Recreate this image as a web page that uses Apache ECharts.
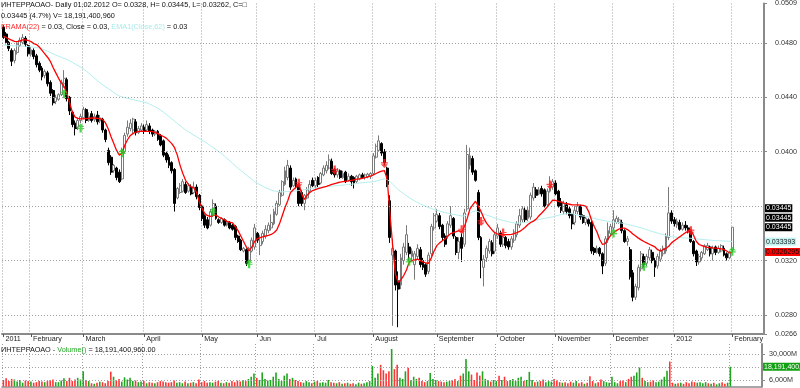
<!DOCTYPE html>
<html><head><meta charset="utf-8">
<script src="https://cdn.jsdelivr.net/npm/echarts@6/dist/echarts.min.js"></script>
<style>html,body{margin:0;padding:0;background:#fff}#c{width:800px;height:388px}</style>
</head><body><div id="c"></div>
<script>
// ---------- DATA (prices in units of 0.00001) ----------
const OPEN = [
4915,4866,4805,4745,4670,4730,4780,4805,4835,4780,
4715,4745,4705,4650,4615,4560,4580,4510,4450,4370,
4385,4420,4500,4530,4400,4290,4210,4180,4230,4250,
4310,4230,4280,4235,4270,4225,4240,4160,4010,3960,
3860,3880,3850,3800,4000,4130,4170,4160,4220,4140,
4160,4180,4160,4190,4160,4130,4150,4120,4080,3990,
3960,3920,3870,3660,3700,3710,3760,3710,3740,3700,
3740,3680,3600,3530,3500,3460,3540,3600,3500,3480,
3500,3460,3480,3460,3450,3380,3350,3270,3280,3200,
3270,3300,3400,3310,3340,3380,3420,3440,3470,3540,
3610,3680,3760,3810,3880,3750,3800,3760,3700,3620,
3660,3710,3790,3750,3810,3770,3830,3860,3880,3930,
3870,3830,3860,3810,3850,3790,3820,3810,3780,3800,
3830,3810,3815,3820,3840,3960,4010,4060,4000,3880,
3640,3240,3270,3050,3020,3200,3260,3300,3230,3170,
3230,3280,3200,3170,3120,3250,3440,3490,3530,3460,
3380,3380,3460,3510,3370,3260,3370,3320,3580,3900,
3950,3860,3700,3370,3150,3220,3270,3330,3270,3380,
3400,3320,3370,3340,3300,3350,3390,3460,3500,3570,
3510,3520,3660,3720,3690,3730,3720,3610,3710,3740,
3770,3710,3630,3560,3610,3580,3540,3480,3560,3600,
3530,3480,3500,3480,3290,3260,3290,3250,3180,3350,
3400,3440,3480,3480,3480,3420,3340,3280,3110,2930,
3000,3140,3230,3180,3220,3260,3200,3160,3210,3250,
3270,3370,3550,3500,3460,3480,3430,3460,3440,3420,
3340,3270,3190,3220,3250,3280,3300,3250,3300,3260,
3270,3290,3250,3220,3280];
const HIGH = [
4930,4880,4815,4760,4760,4805,4840,4865,4850,4790,
4770,4760,4720,4665,4630,4605,4595,4525,4460,4420,
4430,4530,4600,4545,4410,4300,4230,4250,4280,4330,
4320,4290,4300,4280,4300,4270,4250,4170,4030,3975,
3910,3890,3870,4030,4140,4230,4240,4250,4240,4190,
4210,4200,4230,4210,4170,4160,4160,4130,4090,4000,
3980,3930,3880,3740,3770,3800,3780,3770,3760,3780,
3760,3690,3610,3540,3520,3580,3650,3620,3510,3520,
3510,3500,3490,3470,3460,3390,3360,3300,3290,3300,
3370,3470,3410,3390,3420,3460,3480,3540,3580,3640,
3720,3790,3890,3940,3900,3810,3810,3770,3720,3690,
3740,3790,3810,3810,3820,3850,3900,3930,3980,3950,
3880,3880,3870,3860,3860,3840,3830,3820,3830,3840,
3845,3840,3845,3850,3990,4060,4120,4070,4020,3890,
3680,3360,3280,3120,3250,3330,3460,3330,3290,3270,
3320,3300,3220,3180,3260,3470,3550,3580,3550,3470,
3400,3490,3600,3520,3380,3370,3400,3580,4050,4030,
3970,3870,3720,3380,3240,3310,3360,3350,3410,3470,
3420,3390,3380,3360,3380,3430,3490,3580,3600,3590,
3600,3700,3770,3740,3740,3750,3730,3730,3820,3800,
3790,3720,3660,3640,3630,3600,3550,3600,3630,3610,
3540,3520,3510,3490,3300,3310,3300,3260,3380,3480,
3470,3570,3530,3520,3500,3430,3380,3300,3130,3030,
3170,3270,3250,3250,3300,3280,3220,3250,3290,3310,
3400,3740,3570,3520,3510,3500,3480,3490,3460,3430,
3350,3280,3250,3270,3320,3330,3310,3310,3310,3310,
3320,3310,3260,3270,3445];
const LOW = [
4830,4790,4740,4630,4650,4715,4770,4790,4770,4700,
4700,4680,4620,4585,4525,4540,4480,4410,4340,4350,
4375,4410,4470,4370,4270,4180,4120,4160,4210,4240,
4210,4220,4215,4220,4200,4210,4140,4070,3900,3830,
3845,3790,3770,3790,3990,4110,4150,4130,4120,4130,
4150,4130,4150,4130,4110,4115,4080,4040,3960,3920,
3880,3840,3560,3650,3690,3700,3690,3700,3680,3690,
3650,3570,3490,3440,3430,3450,3520,3500,3470,3470,
3450,3450,3430,3420,3350,3330,3270,3260,3160,3180,
3260,3280,3330,3240,3320,3360,3400,3420,3460,3530,
3600,3670,3750,3790,3720,3740,3730,3600,3600,3570,
3650,3700,3740,3730,3740,3760,3820,3840,3870,3830,
3810,3810,3800,3800,3770,3780,3750,3730,3770,3790,
3800,3795,3805,3800,3830,3950,4000,3970,3900,3740,
3330,2720,2980,2710,2990,3170,3240,3200,3200,3060,
3210,3150,3130,3080,3100,3230,3420,3480,3430,3350,
3300,3360,3440,3360,3240,3210,3190,3300,3560,3870,
3830,3780,3350,3070,3010,3190,3250,3230,3250,3360,
3300,3300,3290,3280,3280,3330,3370,3440,3480,3480,
3490,3500,3640,3660,3680,3670,3590,3600,3700,3720,
3680,3590,3550,3540,3540,3510,3430,3460,3540,3500,
3470,3460,3450,3250,3240,3250,3230,3100,3160,3330,
3380,3420,3470,3470,3400,3330,3310,3060,2900,2910,
2980,3120,3150,3160,3200,3180,3080,3140,3190,3230,
3250,3350,3470,3450,3440,3420,3420,3420,3400,3330,
3230,3160,3170,3200,3240,3270,3230,3200,3240,3250,
3260,3230,3200,3210,3262];
const CLOSE = [
4841,4805,4760,4665,4745,4790,4820,4840,4790,4720,
4750,4700,4640,4600,4550,4590,4500,4430,4360,4400,
4420,4510,4540,4390,4300,4200,4170,4230,4260,4310,
4230,4260,4230,4260,4220,4250,4160,4090,3920,3850,
3900,3810,3780,4010,4120,4180,4210,4240,4140,4170,
4190,4150,4200,4150,4130,4150,4090,4050,3975,3940,
3900,3860,3620,3730,3750,3780,3700,3750,3690,3740,
3670,3590,3510,3460,3440,3560,3620,3510,3480,3510,
3460,3480,3440,3430,3370,3340,3280,3290,3180,3290,
3350,3440,3350,3370,3400,3430,3460,3480,3560,3620,
3700,3780,3860,3900,3740,3790,3740,3620,3620,3680,
3720,3760,3750,3790,3760,3840,3880,3900,3940,3840,
3830,3860,3810,3840,3780,3820,3780,3770,3820,3830,
3810,3830,3835,3840,3970,4040,4080,3990,3920,3760,
3370,3290,3020,2990,3220,3300,3390,3250,3270,3250,
3290,3170,3150,3100,3240,3450,3530,3540,3450,3370,
3320,3470,3530,3380,3260,3340,3290,3550,3980,3970,
3850,3790,3370,3200,3210,3290,3340,3250,3390,3440,
3320,3370,3310,3300,3360,3410,3470,3530,3580,3500,
3570,3680,3740,3680,3720,3690,3600,3710,3760,3780,
3690,3600,3570,3620,3560,3530,3470,3570,3600,3520,
3480,3510,3470,3270,3260,3290,3250,3160,3360,3420,
3450,3500,3510,3500,3420,3340,3360,3080,2930,3010,
3150,3250,3170,3230,3280,3200,3150,3230,3270,3290,
3380,3550,3490,3470,3490,3430,3460,3440,3420,3340,
3250,3190,3230,3260,3310,3310,3250,3290,3260,3290,
3310,3240,3220,3260,3445];
// volume in units of 1,000M
const VOLUME = [
6,7.5,5,7,6.5,4.5,6,3.5,5.5,5,
4.5,3.5,4,5,4.5,4,5,6,6.5,4,
4,5.5,7.5,5,8,5,6.5,8,6.5,14,
6,5,3,2.5,3.5,4.5,4,3,5,13.7,
9,6,7,4.5,8.5,6.5,8,5,5.5,4,4.5,
5,3,4,3.5,3,4,5,4.5,4,3.5,
4,5.5,3.5,4,3,4.5,3,3.5,4,3,
6.5,4,5,3.5,4,3.5,4.5,5,3.5,3,
4,3.5,5,4,5.5,4.5,6,5,7,9,
12,8,6,13,7,5.5,6,9,13,7,
5,10,12,7,8,6,5,4,3.5,5,
4,3,4.5,5,3.5,4,3.5,6,4,3.5,
3,4,2.5,3,3.5,2.5,3,2,3.5,2.5,3,4,
5,19,8,12,20,15,12,14,34.6,16,20,
8,7,14,17.4,6,9,7,8,5,4,
5,12.5,7,6,5,4.5,4,4.5,5,6,
7,5,10,12,25.4,14,11,6,13,10,
14,7,6,4.5,6,5,10,6,9,5,
6,7,5,8,9,5,6,13.5,6,4,
4.5,5,6.5,4,5,4.5,7,5.5,4,3.5,
4,3,4.5,3.5,5,3,4,2.5,3.5,9.5,
5,3,4,6.5,5,4,3.5,9,4,3,
5,5.5,4,7,9,10,13,17.5,8,5,
4,4.5,6,4,4.5,6.5,9,14.5,23,3.5,
2.5,3,3.5,2.5,4,3,4.5,4,3.5,4,
3,4,3,2.5,3.5,2,3,4,2.5,3.5,18.1914];
const FRAMA = [
4850,4840,4830,4820,4812,4810,4815,4822,4822,4818,
4810,4795,4788,4770,4745,4720,4695,4665,4620,4580,
4540,4505,4480,4430,4360,4290,4255,4245,4242,4242,
4244,4246,4248,4248,4246,4244,4236,4212,4168,4110,
4060,4010,3975,3990,4050,4090,4120,4135,4145,4150,
4152,4150,4150,4150,4148,4140,4135,4120,4112,4100,
4080,4060,4030,3975,3900,3840,3790,3760,3742,3735,
3700,3630,3580,3545,3530,3524,3530,3535,3520,3510,
3500,3488,3482,3477,3450,3420,3380,3340,3300,3272,
3300,3340,3362,3368,3375,3380,3385,3392,3405,3425,
3470,3530,3590,3640,3700,3720,3740,3770,3690,3650,
3680,3700,3715,3722,3728,3734,3740,3745,3752,3760,
3766,3772,3776,3780,3783,3786,3790,3794,3798,3800,
3805,3810,3815,3820,3830,3840,3850,3858,3862,3800,
3550,3310,3100,3040,3060,3090,3130,3190,3200,3205,
3210,3200,3190,3182,3180,3220,3270,3310,3330,3345,
3360,3380,3398,3405,3412,3420,3410,3450,3510,3580,
3610,3636,3600,3560,3512,3475,3450,3425,3405,3395,
3390,3390,3390,3390,3392,3398,3405,3414,3428,3445,
3465,3480,3490,3505,3530,3550,3572,3595,3620,3645,
3642,3635,3630,3622,3618,3614,3610,3609,3609,3608,
3605,3598,3560,3500,3450,3410,3355,3318,3325,3360,
3385,3405,3420,3432,3438,3438,3428,3414,3395,3380,
3365,3352,3340,3330,3320,3310,3300,3280,3270,3280,
3290,3305,3330,3345,3360,3375,3390,3405,3415,3426,
3385,3340,3318,3310,3302,3297,3295,3293,3292,3290,
3286,3280,3270,3256,3262.95];
const EMA62 = [
4785,4784,4782,4780,4779,4778,4777,4776,4775,4773,
4771,4769,4766,4763,4756,4748,4739,4730,4720,4711,
4702,4694,4686,4678,4668,4657,4645,4633,4622,4610,
4593,4576,4559,4541,4524,4507,4492,4478,4464,4450,
4436,4422,4409,4403,4398,4393,4388,4383,4378,4373,
4369,4364,4360,4350,4340,4330,4320,4305,4290,4275,
4258,4242,4225,4208,4192,4176,4160,4148,4135,4122,
4110,4097,4085,4073,4059,4045,4030,4016,4001,3987,
3969,3951,3933,3915,3897,3878,3862,3846,3829,3813,
3797,3780,3768,3757,3746,3735,3727,3719,3712,3708,
3705,3705,3706,3707,3708,3709,3712,3715,3718,3721,
3724,3727,3731,3734,3737,3739,3741,3743,3745,3747,
3749,3751,3753,3755,3757,3759,3761,3763,3766,3770,
3772,3774,3776,3778,3780,3784,3790,3796,3800,3795,
3780,3762,3742,3722,3705,3690,3676,3663,3650,3638,
3627,3617,3607,3598,3590,3583,3576,3570,3564,3558,
3553,3548,3544,3540,3536,3532,3528,3527,3540,3550,
3560,3565,3560,3550,3542,3535,3528,3520,3513,3507,
3500,3495,3490,3485,3480,3477,3475,3476,3478,3480,
3483,3487,3492,3497,3502,3506,3510,3514,3518,3522,
3528,3533,3538,3542,3546,3548,3545,3540,3535,3530,
3527,3524,3520,3515,3510,3505,3500,3496,3492,3489,
3486,3483,3480,3478,3475,3471,3466,3461,3456,3451,
3446,3440,3434,3427,3420,3414,3408,3402,3396,3390,
3383,3377,3376,3374,3372,3370,3368,3366,3365,3364,
3362,3360,3358,3356,3354,3352,3350,3348,3347,3346,
3345,3344,3343,3341,3339.3];
const BUY_IDX   = [22, 28, 43, 76, 89, 147, 221, 232, 264];
const BUY_PRICE = [4427, 4175, 3992, 3561, 3177, 3195, 3402, 3158, 3268];
const SELL_IDX   = [107, 120, 138, 166, 173, 181, 198, 249];
const SELL_PRICE = [3768, 3866, 3914, 3426, 3487, 3402, 3756, 3419];
const PRICE_TICKS = [0.0266, 0.0280, 0.0320, 0.0400, 0.0440, 0.0480, 0.0509];
const PRICE_GRID = [0.028, 0.032, 0.036, 0.040, 0.044, 0.048];
const VOL_TICKS = [6, 30];
const VOL_GRID = [6, 18, 30];
const LAST_CLOSE = 0.03445, LAST_HIGH = 0.03445, LAST_EMA = 0.033393, LAST_FRAMA = 0.0326295;
const LAST_VOLUME_LABEL = '18,191,400,960';
const MONTH_NAMES = ['', 'February','March','April','May','Jun','Jul','August','September','October','November','December'];
const HOLIDAYS = ['2011-02-23','2011-03-07','2011-03-08','2011-05-02','2011-05-09','2011-06-13','2011-11-04','2012-01-02'];
const WORK_SATURDAYS = ['2011-03-05'];
const PAD_SLOTS = 11;

// ---------- BUILD ----------
const S = 1e5;
const dates = [];
for (let t = Date.UTC(2011,0,18); t <= Date.UTC(2012,1,1); t += 86400000) {
  const d = new Date(t), s = d.toISOString().slice(0,10), wd = d.getUTCDay();
  if ((wd !== 0 && wd !== 6 && HOLIDAYS.indexOf(s) < 0) || WORK_SATURDAYS.indexOf(s) >= 0) dates.push(s);
}
const cats = dates.concat(Array.from({length: PAD_SLOTS}, (_, k) => 'pad' + k));
const monthLabel = {};
dates.forEach((s, i) => {
  if (i === 0 || s.slice(0,7) !== dates[i-1].slice(0,7)) {
    const m = +s.slice(5,7);
    monthLabel[i] = m === 1 ? s.slice(0,4) : MONTH_NAMES[m-1];
  }
});
const isMonth = (i) => monthLabel[i] !== undefined;
const candle = OPEN.map((o, i) => [o / S, CLOSE[i] / S, LOW[i] / S, HIGH[i] / S]);
const FONT = 'Liberation Sans, Arial, sans-serif';
const GREEN = '#1fa51f', RED = '#ff3434';
const CLEAR = 'rgba(0,0,0,0)';

const gridLine = (vals) => ({
  silent: true, symbol: ['none','none'], animation: false, precision: 6,
  label: { show: false },
  lineStyle: { type: [1, 2], color: '#a0a0a0', width: 1 },
  data: vals.map(v => ({ yAxis: v }))
});
const boxLabel = (bg, fg) => ({ show: true, position: 'end', distance: 1, fontSize: 7, fontFamily: FONT,
  color: fg, backgroundColor: bg, padding: [1, 1, 0, 1], formatter: p => String(p.value) });
const valueMark = (label, data) => ({ silent: true, symbol: ['none','none'], animation: false, precision: 8,
  lineStyle: { color: CLEAR, width: 0 }, emphasis: { disabled: true }, label: label, data: data });

const xBase = {
  type: 'category', data: cats, boundaryGap: true,
  axisLine: { show: true, lineStyle: { color: '#8a8a8a', width: 2 } },
  axisTick: { show: false },
  axisLabel: { show: false },
  splitLine: { show: true, interval: (i) => isMonth(i), lineStyle: { type: [1, 2], color: '#a0a0a0' } }
};

const option = {
  animation: false,
  backgroundColor: '#fff',
  title: [
    { left: 1, top: -1, padding: 0,
      text: 'ИНТЕРРАОАО- Daily 01.02.2012 O= 0.0328, H= 0.03445, L= 0.03262, C=□\n0.03445 (4.7%) V= 18,191,400,960\n{r|FRAMA(22)} = 0.03, Close = 0.03, {c|EMA1(Close,62)} = 0.03',
      textStyle: { fontSize: 7.3, fontWeight: 'normal', fontFamily: FONT, color: '#111', lineHeight: 11,
        rich: { r: { color: '#ff2a2a', fontSize: 7.3, fontFamily: FONT }, c: { color: '#a8eaea', fontSize: 7.3, fontFamily: FONT } } } },
    { left: 1, top: 344, padding: 0,
      text: 'ИНТЕРРАОАО - {g|Volume()} = 18,191,400,960.00',
      textStyle: { fontSize: 7.3, fontWeight: 'normal', fontFamily: FONT, color: '#111', lineHeight: 11,
        rich: { g: { color: '#22a822', fontSize: 7.3, fontFamily: FONT } } } }
  ],
  grid: [
    { left: 2, top: 2, width: 764, height: 332 },
    { left: 2, top: 344, width: 764, height: 42.5 }
  ],
  xAxis: [
    Object.assign({}, xBase, { gridIndex: 0, position: 'bottom',
      axisTick: { show: true, interval: (i) => isMonth(i), length: 3, alignWithLabel: true, lineStyle: { color: '#555' } },
      axisLabel: { show: true, interval: (i) => isMonth(i), formatter: (v, i) => monthLabel[i] || '',
        align: 'left', margin: 2, fontSize: 7.2, fontFamily: FONT, color: '#222', padding: [0, 0, 0, 2] } }),
    Object.assign({}, xBase, { gridIndex: 1, position: 'top',
      axisLine: { show: true, lineStyle: { color: '#8a8a8a', width: 1.5 } } })
  ],
  yAxis: [
    { gridIndex: 0, position: 'right', min: 0.0266, max: 0.0509, scale: true,
      axisLine: { show: true, lineStyle: { color: '#8a8a8a', width: 2 } },
      axisTick: { show: true, customValues: PRICE_TICKS, length: 3, lineStyle: { color: '#8a8a8a' } },
      axisLabel: { show: true, customValues: PRICE_TICKS, formatter: v => v.toFixed(4), margin: 11,
        fontSize: 7.2, fontFamily: FONT, color: '#333' },
      splitLine: { show: false } },
    { gridIndex: 1, position: 'right', min: 0, max: 39.2,
      axisLine: { show: true, lineStyle: { color: '#8a8a8a', width: 2 } },
      axisTick: { show: true, customValues: VOL_TICKS, length: 3, lineStyle: { color: '#8a8a8a' } },
      axisLabel: { show: true, customValues: VOL_TICKS, formatter: v => (v * 1000).toLocaleString('en-US') + 'M',
        margin: 7, fontSize: 7.2, fontFamily: FONT, color: '#333' },
      splitLine: { show: false } }
  ],
  series: [
    { name: 'gridMain', type: 'line', xAxisIndex: 0, yAxisIndex: 0, data: [], markLine: gridLine(PRICE_GRID) },
    { name: 'EMA1(Close,62)', type: 'line', xAxisIndex: 0, yAxisIndex: 0, symbol: 'none',
      data: EMA62.map(v => v / S), lineStyle: { color: '#b4eeee', width: 1 },
      markLine: valueMark(boxLabel('#c2f4f4', '#222'), [{ yAxis: LAST_EMA }]) },
    { name: 'FRAMA(22)', type: 'line', xAxisIndex: 0, yAxisIndex: 0, symbol: 'none',
      data: FRAMA.map(v => v / S), lineStyle: { color: '#ff0000', width: 1.3 },
      markLine: valueMark(boxLabel('#ff0000', '#111'), [{ yAxis: LAST_FRAMA }]) },
    { name: 'price', type: 'candlestick', xAxisIndex: 0, yAxisIndex: 0, barWidth: 2.4, data: candle,
      itemStyle: { color: '#ffffff', color0: '#000000', borderColor: '#7a7a7a', borderColor0: '#000000', borderWidth: 1 },
      markLine: valueMark(boxLabel('#000000', '#ffffff'), [
          { yAxis: LAST_HIGH, label: { offset: [0, -19] } },
          { yAxis: LAST_CLOSE, label: { offset: [0, -9.5] } },
          { yAxis: LAST_CLOSE }
        ]) },
    { name: 'buy', type: 'scatter', xAxisIndex: 0, yAxisIndex: 0, z: 5,
      symbol: 'path://M4,0 L8,4 L5.3,4 L5.3,5 L8,5 L8,6.3 L5.3,6.3 L5.3,10 L2.7,10 L2.7,6.3 L0,6.3 L0,5 L2.7,5 L2.7,4 L0,4 Z',
      symbolSize: [7, 9], itemStyle: { color: '#22cc22' },
      data: BUY_IDX.map((i, k) => [i, BUY_PRICE[k] / S]) },
    { name: 'sell', type: 'scatter', xAxisIndex: 0, yAxisIndex: 0, z: 5,
      symbol: 'path://M4,0 L8,4 L5.3,4 L5.3,5 L8,5 L8,6.3 L5.3,6.3 L5.3,10 L2.7,10 L2.7,6.3 L0,6.3 L0,5 L2.7,5 L2.7,4 L0,4 Z',
      symbolRotate: 180, symbolSize: [7, 9], itemStyle: { color: '#ff1a1a' },
      data: SELL_IDX.map((i, k) => [i, SELL_PRICE[k] / S]) },
    { name: 'gridVol', type: 'line', xAxisIndex: 1, yAxisIndex: 1, data: [], markLine: gridLine(VOL_GRID) },
    { name: 'Volume()', type: 'bar', xAxisIndex: 1, yAxisIndex: 1, barWidth: 1.6,
      data: VOLUME.map((v, i) => ({ value: v, itemStyle: { color: CLOSE[i] >= OPEN[i] ? GREEN : RED } })),
      markLine: valueMark(Object.assign(boxLabel('#11a011', '#ffffff'), { formatter: LAST_VOLUME_LABEL }),
        [{ yAxis: VOLUME[VOLUME.length - 1] }]) }
  ]
};
const chart = echarts.init(document.getElementById('c'), null, { renderer: 'canvas' });
chart.setOption(option);
</script>
</body></html>
